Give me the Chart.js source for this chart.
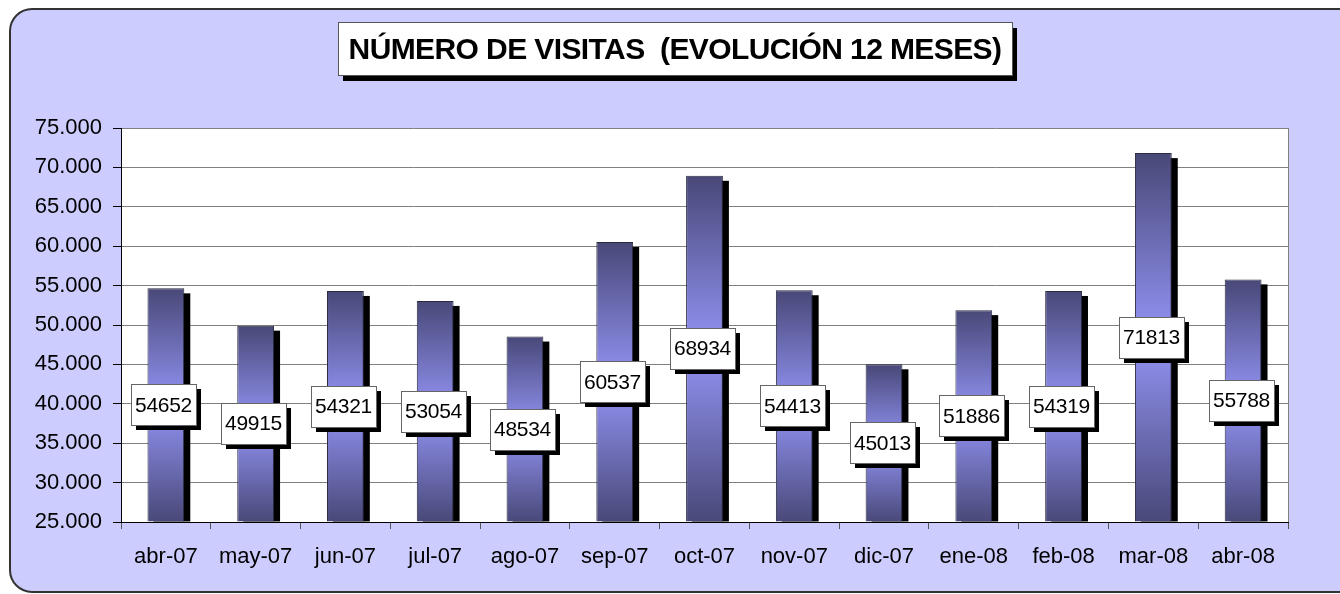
<!DOCTYPE html>
<html>
<head>
<meta charset="utf-8">
<script src="https://cdn.jsdelivr.net/npm/chart.js@4.4.1/dist/chart.umd.min.js"></script>
<style>
  html, body { margin: 0; padding: 0; background: #fff; }
  #wrap { width: 1340px; height: 594px; }
</style>
</head>
<body>
<div id="wrap"><canvas id="visitsChart" width="1340" height="594"></canvas></div>
<script>
const months = ['abr-07', 'may-07', 'jun-07', 'jul-07', 'ago-07', 'sep-07', 'oct-07',
  'nov-07', 'dic-07', 'ene-08', 'feb-08', 'mar-08', 'abr-08'];
const visits = [54652, 49915, 54321, 53054, 48534, 60537, 68934, 54413, 45013, 51886, 54319, 71813, 55788];
const yMin = 25000;
const yMax = 75000;
const yStep = 5000;
const titleText = 'NÚMERO DE VISITAS  (EVOLUCIÓN 12 MESES)';

const FONT = '"Liberation Sans", Arial, sans-serif';

const fmt = (v) => String(v).replace(/\B(?=(\d{3})+(?!\d))/g, '.');

// background, rounded frame and white plot area
const backgroundPlugin = {
  id: 'background',
  beforeDraw(chart) {
    const ctx = chart.ctx;
    const area = chart.chartArea;
    ctx.save();
    ctx.fillStyle = '#ffffff';
    ctx.fillRect(0, 0, chart.width, chart.height);
    ctx.beginPath();
    ctx.roundRect(10, 9, 1350, 583, 22);
    ctx.fillStyle = '#ccccff';
    ctx.fill();
    ctx.lineWidth = 2;
    ctx.strokeStyle = '#333333';
    ctx.stroke();
    ctx.fillStyle = '#ffffff';
    ctx.fillRect(area.left, area.top, area.right - area.left, area.bottom - area.top);
    ctx.strokeStyle = '#808080';
    ctx.lineWidth = 1;
    ctx.beginPath();
    ctx.moveTo(area.right + 0.5, area.top);
    ctx.lineTo(area.right + 0.5, area.bottom);
    ctx.stroke();
    ctx.restore();
  }
};

// title in a white box with a black drop shadow
const titleBoxPlugin = {
  id: 'titleBox',
  afterDraw(chart) {
    const ctx = chart.ctx;
    const x = 338, y = 22, w = 674, h = 53;
    ctx.save();
    ctx.fillStyle = '#000';
    ctx.fillRect(x + 5, y + 6, w, h);
    ctx.fillStyle = '#fff';
    ctx.fillRect(x, y, w, h);
    ctx.strokeStyle = '#555';
    ctx.lineWidth = 1;
    ctx.strokeRect(x + 0.5, y + 0.5, w, h);
    ctx.font = 'bold 30px ' + FONT;
    ctx.letterSpacing = '-0.6px';
    ctx.fillStyle = '#000';
    ctx.textAlign = 'center';
    ctx.textBaseline = 'middle';
    ctx.fillText(titleText, x + w / 2, y + h / 2 + 2);
    ctx.restore();
  }
};

// black shadow behind each bar
const barShadowPlugin = {
  id: 'barShadow',
  beforeDatasetsDraw(chart) {
    const ctx = chart.ctx;
    const meta = chart.getDatasetMeta(0);
    ctx.save();
    ctx.fillStyle = '#000';
    meta.data.forEach((bar) => {
      const p = bar.getProps(['x', 'y', 'base', 'width'], true);
      ctx.fillRect(p.x - p.width / 2 + 6, p.y + 5, p.width, p.base - p.y - 5);
    });
    ctx.restore();
  }
};

// value boxes in the middle of each bar
const valueBoxPlugin = {
  id: 'valueBox',
  afterDatasetsDraw(chart) {
    const ctx = chart.ctx;
    const meta = chart.getDatasetMeta(0);
    const data = chart.data.datasets[0].data;
    ctx.save();
    ctx.font = '21px ' + FONT;
    ctx.letterSpacing = '-0.3px';
    ctx.textAlign = 'center';
    ctx.textBaseline = 'middle';
    meta.data.forEach((bar, i) => {
      const p = bar.getProps(['x', 'y', 'base'], true);
      const cy = (p.y + p.base) / 2;
      const w = 65, h = 41;
      const bx = Math.round(p.x - w / 2 - 2), by = Math.round(cy - h / 2);
      ctx.fillStyle = '#000';
      ctx.fillRect(bx + 5, by + 5, w, h);
      ctx.fillStyle = '#fff';
      ctx.fillRect(bx, by, w, h);
      ctx.strokeStyle = '#666';
      ctx.lineWidth = 1;
      ctx.strokeRect(bx + 0.5, by + 0.5, w, h);
      ctx.fillStyle = '#000';
      ctx.fillText(String(data[i]), bx + w / 2, cy + 1);
    });
    ctx.restore();
  }
};

const barGradient = (context) => {
  const chart = context.chart;
  if (!chart.chartArea || !chart.scales.y) return '#8080e0';
  const yScale = chart.scales.y;
  const top = yScale.getPixelForValue(context.raw);
  const bottom = yScale.getPixelForValue(yMin);
  if (!isFinite(top) || bottom - top < 1) return '#8080e0';
  const g = chart.ctx.createLinearGradient(0, top, 0, bottom);
  g.addColorStop(0, '#484878');
  g.addColorStop(0.5, '#9494f6');
  g.addColorStop(1, '#484878');
  return g;
};

new Chart(document.getElementById('visitsChart'), {
  type: 'bar',
  data: {
    labels: months,
    datasets: [{
      data: visits,
      base: yMin,
      backgroundColor: barGradient,
      borderColor: '#2a2a40',
      borderWidth: 1,
      borderSkipped: 'bottom',
      barPercentage: 0.41,
      categoryPercentage: 1.0
    }]
  },
  options: {
    responsive: false,
    animation: false,
    layout: { padding: { top: 128, right: 52, left: 0, bottom: 0 } },
    plugins: {
      legend: { display: false },
      title: { display: false },
      tooltip: { enabled: false }
    },
    scales: {
      x: {
        afterFit: (s) => { s.height = 594 - 522; },
        grid: {
          offset: true,
          drawOnChartArea: false,
          drawTicks: true,
          tickLength: 7,
          tickColor: '#555'
        },
        border: { color: '#000', width: 1 },
        ticks: {
          color: '#000',
          padding: 15,
          font: { family: FONT, size: 22 }
        }
      },
      y: {
        min: yMin,
        max: yMax,
        afterFit: (s) => { s.width = 121; },
        grid: {
          color: '#808080',
          tickLength: 8,
          tickColor: '#000'
        },
        border: { color: '#000', width: 1 },
        ticks: {
          stepSize: yStep,
          color: '#000',
          padding: 11,
          font: { family: FONT, size: 22 },
          callback: (v) => fmt(v)
        }
      }
    }
  },
  plugins: [backgroundPlugin, barShadowPlugin, valueBoxPlugin, titleBoxPlugin]
});
</script>
</body>
</html>
